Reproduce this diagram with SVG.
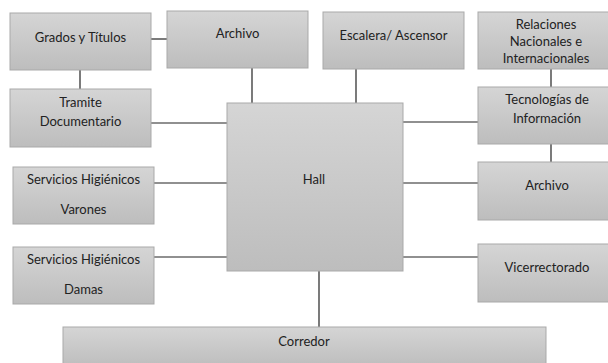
<svg xmlns="http://www.w3.org/2000/svg" width="608" height="363" viewBox="0 0 608 363">
<defs>
<linearGradient id="g" x1="0" y1="0" x2="0" y2="1">
<stop offset="0" stop-color="#d5d5d5"/>
<stop offset="1" stop-color="#bdbdbd"/>
</linearGradient>
<style>
.b{fill:url(#g);stroke:#a9a9a9;stroke-width:1}
.t{font-family:Lato,"Open Sans",sans-serif;font-size:13px;fill:#222;text-anchor:middle}
.c line{stroke:#222;stroke-width:1.2}
</style>
</defs>
<rect width="608" height="363" fill="#fff"/>
<g class="c" id="connectors">
<line x1="151" y1="39" x2="167" y2="39"/>
<line x1="80" y1="70" x2="80" y2="89"/>
<line x1="151" y1="123" x2="227" y2="123"/>
<line x1="252" y1="68" x2="252" y2="103"/>
<line x1="356" y1="69" x2="356" y2="103"/>
<line x1="551" y1="69" x2="551" y2="87"/>
<line x1="403" y1="122" x2="478" y2="122"/>
<line x1="551" y1="144" x2="551" y2="162"/>
<line x1="154" y1="183" x2="227" y2="183"/>
<line x1="154" y1="257" x2="227" y2="257"/>
<line x1="403" y1="183" x2="478" y2="183"/>
<line x1="403" y1="257" x2="478" y2="257"/>
<line x1="319" y1="271" x2="319" y2="327"/>
</g>
<g id="grados"><rect class="b" x="10" y="13" width="141" height="57"/><text class="t" x="80.5" y="42">Grados y Títulos</text></g>
<g id="archivo1"><rect class="b" x="167" y="11" width="141" height="57"/><text class="t" x="237.5" y="38">Archivo</text></g>
<g id="escalera"><rect class="b" x="323" y="12" width="141" height="57"/><text class="t" x="393.5" y="40">Escalera/ Ascensor</text></g>
<g id="relaciones"><rect class="b" x="478" y="12" width="138" height="57"/><text class="t" x="546" y="29">Relaciones</text><text class="t" x="546" y="46">Nacionales e</text><text class="t" x="546" y="63">Internacionales</text></g>
<g id="tramite"><rect class="b" x="10" y="89" width="141" height="58"/><text class="t" x="80.5" y="107">Tramite</text><text class="t" x="80.5" y="126">Documentario</text></g>
<g id="hall"><rect class="b" x="227" y="103" width="176" height="168"/><text class="t" x="314" y="184">Hall</text></g>
<g id="tecnologias"><rect class="b" x="478" y="87" width="138" height="57"/><text class="t" x="547" y="104">Tecnologías de</text><text class="t" x="547" y="123">Información</text></g>
<g id="varones"><rect class="b" x="13" y="167" width="141" height="57"/><text class="t" x="83.5" y="184">Servicios Higiénicos</text><text class="t" x="83.5" y="214">Varones</text></g>
<g id="archivo2"><rect class="b" x="478" y="162" width="138" height="58"/><text class="t" x="547" y="190">Archivo</text></g>
<g id="damas"><rect class="b" x="13" y="247" width="141" height="57"/><text class="t" x="83.5" y="264">Servicios Higiénicos</text><text class="t" x="83.5" y="294">Damas</text></g>
<g id="vicerrectorado"><rect class="b" x="478" y="244" width="138" height="58"/><text class="t" x="547" y="272">Vicerrectorado</text></g>
<g id="corredor"><rect class="b" x="63" y="327" width="483" height="40"/><text class="t" x="304" y="346">Corredor</text></g>
</svg>
